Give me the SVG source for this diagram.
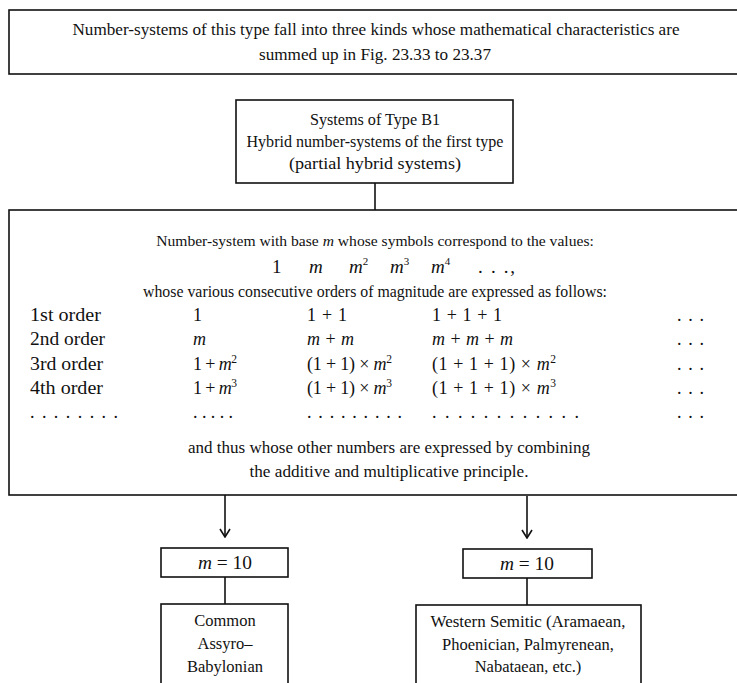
<svg xmlns="http://www.w3.org/2000/svg" width="737" height="683" viewBox="0 0 737 683">
<style>
text{font-family:"Liberation Serif","DejaVu Serif",serif;fill:#111;}
.box{fill:#fff;stroke:#111;stroke-width:1.6;}
.ln{stroke:#111;stroke-width:1.6;fill:none;}
.c{text-anchor:middle;}
.t14{font-size:16.5px;}
.t17{font-size:17px;}
.t16{font-size:18px;}
.i{font-style:italic;}
</style>
<defs>
<marker id="arr" viewBox="0 0 10 12" refX="9" refY="6" markerWidth="10" markerHeight="12" markerUnits="userSpaceOnUse" orient="auto">
<path d="M1,1 L9,6 L1,11" fill="none" stroke="#111" stroke-width="1.6"/>
</marker>
</defs>
<rect width="737" height="683" fill="#fff"/>

<g id="note">
<rect class="box" x="9" y="10" width="740" height="64"/>
<text class="c t14" x="376" y="35" textLength="607" lengthAdjust="spacingAndGlyphs">Number-systems of this type fall into three kinds whose mathematical characteristics are</text>
<text class="c t14" x="375" y="60" textLength="232" lengthAdjust="spacingAndGlyphs">summed up in Fig. 23.33 to 23.37</text>
</g>

<g id="connectors">
<line class="ln" x1="375" y1="183" x2="375" y2="210"/>
<line class="ln" x1="225" y1="495" x2="225" y2="537" marker-end="url(#arr)"/>
<line class="ln" x1="527" y1="496" x2="527" y2="538" marker-end="url(#arr)"/>
<line class="ln" x1="225" y1="577" x2="225" y2="604"/>
<line class="ln" x1="527" y1="578" x2="527" y2="605"/>
</g>

<g id="typeB1">
<rect class="box" x="236" y="100" width="277" height="83"/>
<text class="c t17" x="375" y="125" textLength="130" lengthAdjust="spacingAndGlyphs">Systems of Type B1</text>
<text class="c t17" x="375" y="147" textLength="257" lengthAdjust="spacingAndGlyphs">Hybrid number-systems of the first type</text>
<text class="c t17" x="375" y="169" textLength="172" lengthAdjust="spacingAndGlyphs">(partial hybrid systems)</text>
</g>

<g id="description">
<rect class="box" x="9" y="210" width="740" height="285"/>
<text class="c" font-size="15.6" x="375" y="246">Number-system with base <tspan class="i">m</tspan> whose symbols correspond to the values:</text>
<g font-size="19">
<text x="272" y="273">1</text>
<text x="309" y="273" class="i">m</text>
<text x="349" y="273"><tspan class="i">m</tspan><tspan font-size="11" dy="-8">2</tspan></text>
<text x="390" y="273"><tspan class="i">m</tspan><tspan font-size="11" dy="-8">3</tspan></text>
<text x="431" y="273"><tspan class="i">m</tspan><tspan font-size="11" dy="-8">4</tspan></text>
<text x="478" y="273" textLength="37" lengthAdjust="spacing">. . .,</text>
</g>
<text class="c t14" x="375" y="297" textLength="464" lengthAdjust="spacingAndGlyphs">whose various consecutive orders of magnitude are expressed as follows:</text>
<g class="t16">
<text x="30" y="321" textLength="71" lengthAdjust="spacingAndGlyphs">1st order</text>
<text x="193" y="321">1</text>
<text x="307" y="321" textLength="40" lengthAdjust="spacing">1 + 1</text>
<text x="432" y="321" textLength="70" lengthAdjust="spacing">1 + 1 + 1</text>
<text x="677" y="321" textLength="27" lengthAdjust="spacing">. . .</text>

<text x="30" y="345" textLength="75" lengthAdjust="spacingAndGlyphs">2nd order</text>
<text x="193" y="345" class="i">m</text>
<text x="307" y="345" textLength="47" lengthAdjust="spacing"><tspan class="i">m</tspan> + <tspan class="i">m</tspan></text>
<text x="432" y="345" textLength="81" lengthAdjust="spacing"><tspan class="i">m</tspan> + <tspan class="i">m</tspan> + <tspan class="i">m</tspan></text>
<text x="677" y="345" textLength="27" lengthAdjust="spacing">. . .</text>

<text x="30" y="370" textLength="73" lengthAdjust="spacingAndGlyphs">3rd order</text>
<text x="193" y="370" textLength="44" lengthAdjust="spacing">1 + <tspan class="i">m</tspan><tspan font-size="11.5" dy="-7">2</tspan></text>
<text x="307" y="370" textLength="85" lengthAdjust="spacing">(1 + 1) × <tspan class="i">m</tspan><tspan font-size="11.5" dy="-7">2</tspan></text>
<text x="432" y="370" textLength="124" lengthAdjust="spacing">(1 + 1 + 1) × <tspan class="i">m</tspan><tspan font-size="11.5" dy="-7">2</tspan></text>
<text x="677" y="370" textLength="27" lengthAdjust="spacing">. . .</text>

<text x="30" y="394" textLength="73" lengthAdjust="spacingAndGlyphs">4th order</text>
<text x="193" y="394" textLength="44" lengthAdjust="spacing">1 + <tspan class="i">m</tspan><tspan font-size="11.5" dy="-7">3</tspan></text>
<text x="307" y="394" textLength="85" lengthAdjust="spacing">(1 + 1) × <tspan class="i">m</tspan><tspan font-size="11.5" dy="-7">3</tspan></text>
<text x="432" y="394" textLength="124" lengthAdjust="spacing">(1 + 1 + 1) × <tspan class="i">m</tspan><tspan font-size="11.5" dy="-7">3</tspan></text>
<text x="677" y="394" textLength="27" lengthAdjust="spacing">. . .</text>

<text x="30" y="418" textLength="88" lengthAdjust="spacing">........</text>
<text x="193" y="418" textLength="40" lengthAdjust="spacing">.....</text>
<text x="307" y="418" textLength="95" lengthAdjust="spacing">.........</text>
<text x="432" y="418" textLength="147" lengthAdjust="spacing">............</text>
<text x="677" y="418" textLength="27" lengthAdjust="spacing">...</text>
</g>
<text class="c t14" x="389" y="453" textLength="402" lengthAdjust="spacingAndGlyphs">and thus whose other numbers are expressed by combining</text>
<text class="c t14" x="389" y="477" textLength="279" lengthAdjust="spacingAndGlyphs">the additive and multiplicative principle.</text>
</g>

<g id="m10-left">
<rect class="box" x="161" y="548" width="127" height="29"/>
<text class="c t16" x="225" y="569" textLength="54" lengthAdjust="spacingAndGlyphs"><tspan class="i">m</tspan> = 10</text>
</g>

<g id="m10-right">
<rect class="box" x="463" y="549" width="129" height="29"/>
<text class="c t16" x="527" y="570" textLength="54" lengthAdjust="spacingAndGlyphs"><tspan class="i">m</tspan> = 10</text>
</g>

<g id="assyro">
<rect class="box" x="161" y="604" width="127" height="90"/>
<text class="c t14" x="225" y="626">Common</text>
<text class="c t14" x="225" y="649">Assyro–</text>
<text class="c t14" x="225" y="672">Babylonian</text>
</g>

<g id="semitic">
<rect class="box" x="416" y="605" width="225" height="90"/>
<text class="c t14" x="528" y="627" textLength="195" lengthAdjust="spacingAndGlyphs">Western Semitic (Aramaean,</text>
<text class="c t14" x="528" y="650">Phoenician, Palmyrenean,</text>
<text class="c t14" x="528" y="672">Nabataean, etc.)</text>
</g>
</svg>
